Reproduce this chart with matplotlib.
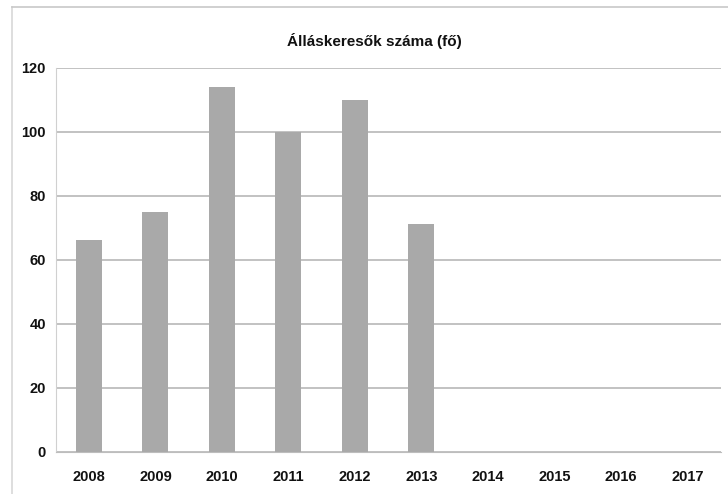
import matplotlib.pyplot as plt
import numpy as np

years = ['2008', '2009', '2010', '2011', '2012', '2013', '2014', '2015', '2016', '2017']
values = [66, 75, 114, 100, 110, 71, 0, 0, 0, 0]
yticks = [0, 20, 40, 60, 80, 100, 120]
title = 'Álláskeresők száma (fő)'

plt.rcParams['font.family'] = ['Liberation Sans', 'DejaVu Sans']

fig = plt.figure(figsize=(7.28, 4.94), dpi=100)
ax = fig.add_axes([0.0765, 0.0856, 0.9135, 0.7774])

x = np.arange(len(years))
shown = [v if v > 0 else np.nan for v in values]
ax.bar(x, shown, width=0.39, color='#a9a9a9', zorder=3)

ax.set_xlim(-0.5, len(years) - 0.5)
ax.set_ylim(0, 120)
ax.set_yticks(yticks)
ax.set_xticks(x)
ax.set_xticklabels(years)
ax.grid(axis='y', color='#bdbdbd', linewidth=1.3, zorder=1)
ax.grid(axis='x', visible=False)

for s in ['top', 'right']:
    ax.spines[s].set_visible(False)
ax.spines['left'].set_color('#d0d0d0')
ax.spines['bottom'].set_color('#bdbdbd')
ax.tick_params(axis='y', length=0, pad=7, labelsize=10.5)
ax.tick_params(axis='x', length=0, pad=13, labelsize=10.5)
for lab in ax.get_xticklabels() + ax.get_yticklabels():
    lab.set_fontweight('bold')
    lab.set_color('#111111')

fig.text(0.514, 0.917, title, ha='center', va='center', fontsize=11,
         fontweight='bold', color='#111111')

# chart frame from the scan
fig.add_artist(plt.Line2D([0.016, 0.016], [0.0, 0.986], color='#d8d8d8', lw=1.2,
                          transform=fig.transFigure))
fig.add_artist(plt.Line2D([0.016, 1.0], [0.986, 0.986], color='#c8c8c8', lw=1.2,
                          transform=fig.transFigure))

fig.savefig('out.png', dpi=100)
